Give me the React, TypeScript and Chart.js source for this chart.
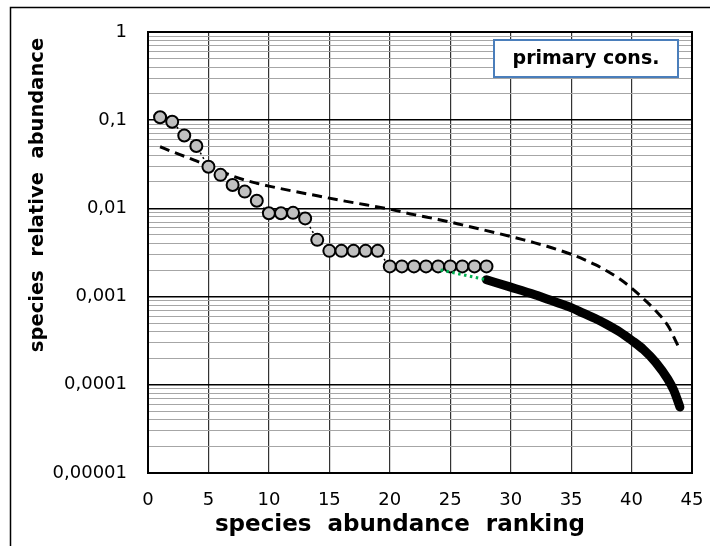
import React, { useEffect, useRef } from 'react';
import { Chart, registerables } from 'chart.js';

Chart.register(...registerables);

// Observed ranks and relative abundances (grey circles)
const observedRanks = [1, 2, 3, 4, 5, 6, 7, 8, 9, 10, 11, 12, 13, 14, 15, 16, 17, 18, 19, 20, 21, 22, 23, 24, 25, 26, 27, 28];
const observedValues = [
  0.108, 0.096, 0.067, 0.051, 0.0297, 0.024, 0.0184, 0.0155, 0.0122, 0.0088,
  0.0088, 0.0089, 0.0077, 0.0044, 0.0033, 0.0033, 0.0033, 0.0033, 0.0033,
  0.0022, 0.0022, 0.0022, 0.0022, 0.0022, 0.0022, 0.0022, 0.0022, 0.0022,
];

// Model curve (dashed)
const modelRanks = [
  1, 2, 3, 4, 5, 6, 7, 8, 9, 10, 12, 14, 16, 18, 20, 22, 24, 26, 28, 30,
  31, 32, 33, 34, 35, 36, 37, 38, 39, 40, 41, 42, 43, 44,
];
const modelValues = [
  0.05, 0.044, 0.039, 0.0345, 0.0305, 0.0265, 0.0233, 0.021, 0.0193, 0.0179,
  0.0157, 0.0139, 0.0123, 0.011, 0.0098, 0.0085, 0.0075, 0.0065, 0.0056, 0.0048,
  0.00443, 0.00407, 0.00372, 0.00337, 0.00302, 0.00266, 0.0023, 0.00194, 0.00159,
  0.00125, 0.00094, 0.00069, 0.00047, 0.00025,
];

// Extrapolated tail (thick black)
const tailRanks = [28, 30, 32, 34, 35, 36, 37, 38, 39, 40, 41, 42, 43, 43.5, 44];
const tailValues = [
  0.00155, 0.00128, 0.00105, 0.00084, 0.00075, 0.00065, 0.000565, 0.00048,
  0.0004, 0.00032, 0.00025, 0.00018, 0.000116, 0.000086, 0.000056,
];

// Link between observed plateau and tail (green dotted)
const linkRanks = [24.2, 28];
const linkValues = [0.002, 0.00155];

// Axis labels
const xTicks = [0, 5, 10, 15, 20, 25, 30, 35, 40, 45];
const yDecades = [0.00001, 0.0001, 0.001, 0.01, 0.1, 1];
const yDecadeLabels = ['0,00001', '0,0001', '0,001', '0,01', '0,1', '1'];
const xTitle = 'species  abundance  ranking';
const yTitle = 'species  relative  abundance';
const boxLabel = 'primary cons.';

const FONT = "'DejaVu Sans', sans-serif";

const pts = (xs: number[], ys: number[]) => xs.map((x, i) => ({ x, y: ys[i] }));

const isDecade = (v: number) => yDecades.some((d) => Math.abs(v - d) / d < 1e-6);

const decorations = {
  id: 'decorations',
  beforeDraw(chart: any) {
    const { ctx } = chart;
    ctx.save();
    ctx.fillStyle = '#fff';
    ctx.fillRect(0, 0, chart.width, chart.height);
    ctx.restore();
  },
  afterDraw(chart: any) {
    const { ctx, chartArea: a } = chart;
    ctx.save();
    // frame around the whole figure
    ctx.strokeStyle = '#000';
    ctx.lineWidth = 1.5;
    ctx.beginPath();
    ctx.moveTo(10.5, chart.height);
    ctx.lineTo(10.5, 7.5);
    ctx.lineTo(chart.width, 7.5);
    ctx.stroke();

    // plot border
    ctx.lineWidth = 2;
    ctx.strokeRect(a.left, a.top, a.right - a.left, a.bottom - a.top);

    // label box
    const bx = 494, by = 40, bw = 184, bh = 37;
    ctx.fillStyle = '#fff';
    ctx.fillRect(bx, by, bw, bh);
    ctx.strokeStyle = '#4a7ebb';
    ctx.lineWidth = 2;
    ctx.strokeRect(bx, by, bw, bh);
    ctx.fillStyle = '#000';
    ctx.font = `bold 19px ${FONT}`;
    ctx.textAlign = 'center';
    ctx.textBaseline = 'middle';
    ctx.fillText(boxLabel, bx + bw / 2, by + bh / 2 + 1);

    // axis titles
    ctx.textBaseline = 'alphabetic';
    ctx.font = `bold 23px ${FONT}`;
    ctx.fillText(xTitle, 400, 531);
    ctx.font = `bold 19.5px ${FONT}`;
    ctx.translate(43, 195);
    ctx.rotate(-Math.PI / 2);
    ctx.fillText(yTitle, 0, 0);
    ctx.restore();
  },
};

export default function App() {
  const ref = useRef<HTMLCanvasElement | null>(null);

  useEffect(() => {
    if (!ref.current) return;
    const chart = new Chart(ref.current, {
      type: 'scatter',
      data: {
        datasets: [
          {
            label: 'link',
            data: pts(linkRanks, linkValues),
            showLine: true,
            borderColor: '#00b050',
            borderWidth: 3,
            borderDash: [2.5, 3.5],
            pointRadius: 0,
            order: 0,
          },
          {
            label: 'observed',
            data: pts(observedRanks, observedValues),
            showLine: true,
            borderColor: '#000',
            borderWidth: 1.5,
            borderDash: [2, 3],
            pointRadius: 6,
            pointBackgroundColor: '#c0c0c0',
            pointBorderColor: '#000',
            pointBorderWidth: 2,
            order: 1,
          },
          {
            label: 'tail',
            data: pts(tailRanks, tailValues),
            showLine: true,
            borderColor: '#000',
            borderWidth: 9,
            borderCapStyle: 'round',
            borderJoinStyle: 'round',
            cubicInterpolationMode: 'monotone',
            pointRadius: 0,
            order: 2,
          },
          {
            label: 'model',
            data: pts(modelRanks, modelValues),
            showLine: true,
            borderColor: '#000',
            borderWidth: 3,
            borderDash: [10, 6],
            cubicInterpolationMode: 'monotone',
            pointRadius: 0,
            order: 3,
          },
        ],
      },
      options: {
        animation: false,
        responsive: false,
        devicePixelRatio: 1,
        layout: { padding: { left: 0, top: 32, right: 18, bottom: 0 } },
        plugins: { legend: { display: false }, tooltip: { enabled: false } },
        scales: {
          x: {
            type: 'linear',
            min: 0,
            max: 45,
            afterBuildTicks: (scale: any) => {
              scale.ticks = xTicks.map((v) => ({ value: v }));
            },
            afterFit: (scale: any) => {
              scale.height = 73;
            },
            ticks: {
              autoSkip: false,
              maxRotation: 0,
              padding: 2,
              color: '#000',
              font: { family: FONT, size: 18, lineHeight: '51px' },
              callback: (v: any) => String(v),
            },
            grid: { color: '#333', lineWidth: 1.2, drawTicks: false },
            border: { display: false },
          },
          y: {
            type: 'logarithmic',
            min: 0.00001,
            max: 1,
            afterBuildTicks: (scale: any) => {
              const t: { value: number }[] = [];
              for (let i = 0; i < yDecades.length; i++) {
                const d = yDecades[i];
                if (i === yDecades.length - 1) {
                  t.push({ value: d });
                } else {
                  for (let m = 1; m <= 9; m++) t.push({ value: m * d });
                }
              }
              scale.ticks = t;
            },
            afterFit: (scale: any) => {
              scale.width = 148;
            },
            ticks: {
              autoSkip: false,
              padding: 21,
              color: '#000',
              font: { family: FONT, size: 18 },
              callback: (v: any) => {
                const i = yDecades.findIndex((d) => Math.abs(Number(v) - d) / d < 1e-6);
                return i >= 0 ? yDecadeLabels[i] : '';
              },
            },
            grid: {
              drawTicks: false,
              color: (c: any) => (c.tick && isDecade(c.tick.value) ? '#000' : '#a6a6a6'),
              lineWidth: (c: any) => (c.tick && isDecade(c.tick.value) ? 1.4 : 1),
            },
            border: { display: false },
          },
        },
      },
      plugins: [decorations],
    } as any);
    return () => chart.destroy();
  }, []);

  return (
    <div style={{ position: 'fixed', left: 0, top: 0, width: 710, height: 546, background: '#fff' }}>
      <canvas ref={ref} width={710} height={546} style={{ width: 710, height: 546, display: 'block' }} />
    </div>
  );
}
